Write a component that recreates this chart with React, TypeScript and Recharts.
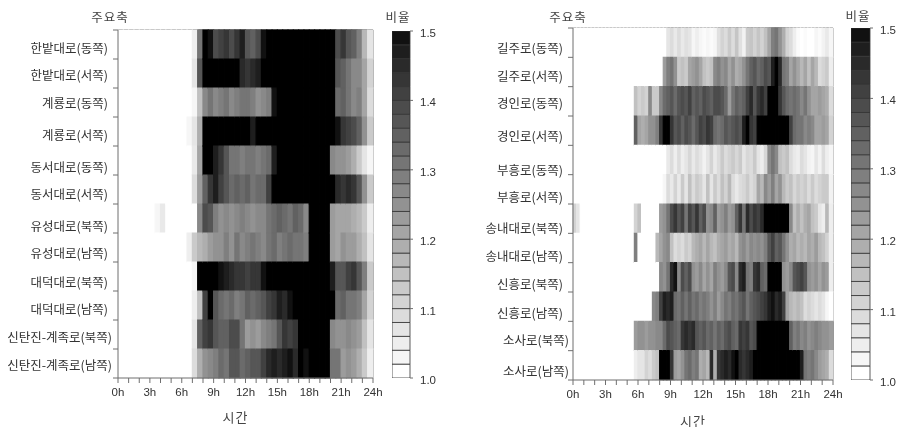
import { BarChart, Bar, Cell, XAxis, YAxis, Label, CartesianGrid } from 'recharts'

const HOURS = [0, 1, 2, 3, 4, 5, 6, 7, 8, 9, 10, 11, 12, 13, 14, 15, 16, 17, 18, 19, 20, 21, 22, 23, 24]
const LEVELS = [1, 1.02, 1.04, 1.06, 1.08, 1.1, 1.12, 1.14, 1.16, 1.18, 1.2, 1.22, 1.24, 1.26, 1.28, 1.3, 1.32, 1.34, 1.36, 1.38, 1.4, 1.42, 1.44, 1.46, 1.48]
const LEGEND_TICKS = [1, 1.1, 1.2, 1.3, 1.4, 1.5]

const leftRoads = ['한밭대로(동쪽)', '한밭대로(서쪽)', '계룡로(동쪽)', '계룡로(서쪽)', '동서대로(동쪽)', '동서대로(서쪽)', '유성대로(북쪽)', '유성대로(남쪽)', '대덕대로(북쪽)', '대덕대로(남쪽)', '신탄진-계족로(북쪽)', '신탄진-계족로(남쪽)']
const rightRoads = ['길주로(동쪽)', '길주로(서쪽)', '경인로(동쪽)', '경인로(서쪽)', '부흥로(동쪽)', '부흥로(서쪽)', '송내대로(북쪽)', '송내대로(남쪽)', '신흥로(북쪽)', '신흥로(남쪽)', '소사로(북쪽)', '소사로(남쪽)']

// the labels in the picture don't sit exactly on the row centres
const leftNudgeY = [3, 1, 0, 3, 6, 4, 7, 5, 5, 3, 2, 1]
const leftNudgeX = [0, 0, 0, 0, 0, 0, 0, 0, 0, 0, 4, 4]
const rightNudgeY = [5, 3, 1, 5, 9, 7, 9, 7, 6, 6, 3, 5]
const rightNudgeX = [0, 0, 0, 0, 0, 0, 0, 0, 0, 0, 6, 6]

// half hour bins
const leftValues = [
  [1,1,1,1,1,1,1,1,1,1,1,1,1,1,1.04,1.3,1.5,1.48,1.38,1.4,1.42,1.38,1.42,1.46,1.36,1.34,1.38,1.48,1.5,1.5,1.5,1.5,1.5,1.5,1.5,1.5,1.5,1.5,1.5,1.5,1.5,1.38,1.42,1.36,1.34,1.28,1.16,1.06],
  [1,1,1,1,1,1,1,1,1,1,1,1,1,1,1.06,1.36,1.5,1.5,1.5,1.5,1.5,1.5,1.5,1.44,1.42,1.44,1.46,1.5,1.5,1.5,1.5,1.5,1.5,1.5,1.5,1.5,1.5,1.5,1.5,1.5,1.5,1.36,1.34,1.3,1.26,1.26,1.2,1.1],
  [1,1,1,1,1,1,1,1,1,1,1,1,1,1,1.02,1.14,1.26,1.3,1.26,1.28,1.3,1.26,1.28,1.3,1.3,1.28,1.24,1.26,1.28,1.48,1.5,1.5,1.5,1.5,1.5,1.5,1.5,1.5,1.5,1.5,1.5,1.32,1.34,1.3,1.26,1.28,1.2,1.08],
  [1,1,1,1,1,1,1,1,1,1,1,1,1,1.02,1.06,1.18,1.5,1.5,1.5,1.5,1.5,1.5,1.5,1.5,1.5,1.46,1.5,1.5,1.5,1.5,1.5,1.5,1.5,1.5,1.5,1.5,1.5,1.5,1.5,1.5,1.5,1.48,1.42,1.4,1.38,1.34,1.24,1.12],
  [1,1,1,1,1,1,1,1,1,1,1,1,1,1,1.05,1.2,1.5,1.5,1.46,1.42,1.36,1.3,1.3,1.28,1.3,1.3,1.28,1.3,1.32,1.46,1.5,1.5,1.5,1.5,1.5,1.5,1.5,1.5,1.5,1.5,1.26,1.24,1.24,1.22,1.18,1.12,1.06,1.02],
  [1,1,1,1,1,1,1,1,1,1,1,1,1,1,1.08,1.22,1.34,1.42,1.46,1.4,1.36,1.32,1.34,1.32,1.34,1.3,1.32,1.32,1.4,1.5,1.5,1.5,1.5,1.5,1.5,1.5,1.5,1.5,1.5,1.5,1.5,1.44,1.42,1.44,1.42,1.36,1.24,1.12],
  [1,1,1,1,1,1,1,1.02,1.05,1,1,1,1,1,1,1.26,1.38,1.36,1.28,1.24,1.26,1.24,1.26,1.28,1.26,1.24,1.26,1.26,1.3,1.32,1.34,1.32,1.3,1.34,1.32,1.26,1.5,1.5,1.5,1.5,1.22,1.2,1.2,1.2,1.18,1.16,1.12,1.04],
  [1,1,1,1,1,1,1,1,1,1,1,1,1,1.04,1.12,1.16,1.18,1.22,1.24,1.24,1.28,1.24,1.3,1.26,1.28,1.3,1.28,1.26,1.3,1.32,1.28,1.3,1.32,1.3,1.3,1.28,1.5,1.5,1.5,1.5,1.22,1.2,1.24,1.22,1.22,1.18,1.14,1.06],
  [1,1,1,1,1,1,1,1,1,1,1,1,1,1,1.02,1.5,1.5,1.5,1.5,1.48,1.46,1.44,1.42,1.42,1.4,1.42,1.42,1.48,1.5,1.5,1.5,1.5,1.5,1.5,1.5,1.5,1.5,1.5,1.5,1.5,1.46,1.36,1.36,1.4,1.42,1.36,1.28,1.12],
  [1,1,1,1,1,1,1,1,1,1,1,1,1,1,1.04,1.14,1.4,1.5,1.36,1.32,1.3,1.32,1.28,1.3,1.34,1.32,1.34,1.36,1.4,1.42,1.46,1.44,1.48,1.5,1.5,1.5,1.5,1.5,1.5,1.5,1.5,1.32,1.34,1.3,1.3,1.28,1.2,1.1],
  [1,1,1,1,1,1,1,1,1,1,1,1,1,1,1.06,1.34,1.4,1.42,1.36,1.34,1.34,1.38,1.38,1.3,1.22,1.24,1.22,1.26,1.28,1.3,1.36,1.42,1.4,1.42,1.5,1.5,1.5,1.5,1.5,1.5,1.26,1.24,1.24,1.26,1.24,1.22,1.14,1.06],
  [1,1,1,1,1,1,1,1,1,1,1,1,1,1,1.08,1.18,1.24,1.26,1.28,1.32,1.3,1.36,1.36,1.32,1.34,1.36,1.36,1.4,1.44,1.46,1.44,1.46,1.48,1.44,1.5,1.48,1.5,1.5,1.5,1.5,1.3,1.3,1.22,1.24,1.22,1.18,1.12,1.04],
]

// 20 minute bins
const rightValues = [
  [1,1,1,1,1,1,1,1,1,1,1,1,1,1,1,1,1,1,1,1,1,1,1,1,
   1,1,1.06,1.08,1.05,1.08,1.05,1.07,1.06,1.02,1.04,1.02,1.01,1.02,1.01,1.02,1.07,1.1,1.08,1.12,1.08,1.13,1.07,1.03,
   1.12,1.13,1.1,1.13,1.1,1.14,1.2,1.28,1.3,1.24,1.18,1.1,1.08,1.04,1.01,1,1.01,1,1,1.02,1.01,1.03,1.05,1.02],
  [1,1,1,1,1,1,1,1,1,1,1,1,1,1,1,1,1,1,1,1,1,1,1,1,
   1,1.22,1.28,1.3,1.24,1.12,1.14,1.12,1.2,1.22,1.24,1.2,1.14,1.12,1.14,1.26,1.28,1.24,1.26,1.2,1.24,1.18,1.2,1.24,
   1.3,1.34,1.36,1.32,1.34,1.38,1.36,1.46,1.5,1.44,1.3,1.28,1.2,1.24,1.2,1.16,1.2,1.14,1.2,1.16,1.08,1.1,1.12,1.04],
  [1,1,1,1,1,1,1,1,1,1,1,1,1,1,1,1,1,1.14,1.1,1.12,1.1,1.26,1.12,1.12,
   1.26,1.32,1.34,1.36,1.32,1.36,1.38,1.36,1.4,1.34,1.36,1.34,1.38,1.36,1.34,1.38,1.38,1.36,1.32,1.22,1.3,1.34,1.32,1.34,
   1.4,1.44,1.36,1.42,1.44,1.4,1.5,1.5,1.5,1.42,1.36,1.32,1.3,1.32,1.3,1.26,1.3,1.24,1.2,1.2,1.22,1.2,1.18,1.08],
  [1,1,1,1,1,1,1,1,1,1,1,1,1,1,1,1,1,1.34,1.2,1.18,1.2,1.24,1.24,1.28,
   1.42,1.5,1.5,1.42,1.36,1.38,1.34,1.38,1.36,1.32,1.36,1.4,1.38,1.42,1.4,1.32,1.3,1.32,1.36,1.34,1.36,1.38,1.36,1.46,
   1.5,1.42,1.4,1.5,1.5,1.5,1.5,1.5,1.5,1.5,1.5,1.5,1.4,1.32,1.3,1.3,1.26,1.28,1.26,1.2,1.2,1.22,1.2,1.1],
  [1,1,1,1,1,1,1,1,1,1,1,1,1,1,1,1,1,1,1,1,1,1,1,1,
   1,1,1.05,1.08,1.04,1.08,1.04,1.06,1.09,1.05,1.08,1.06,1.03,1.06,1.1,1.05,1.08,1.12,1.08,1.1,1.12,1.09,1.12,1.06,
   1.09,1.08,1.12,1.06,1.04,1.09,1.26,1.3,1.26,1.14,1.12,1.14,1.08,1.05,1.04,1.08,1.06,1.03,1.02,1.06,1.03,1.08,1.04,1.02],
  [1,1,1,1,1,1,1,1,1,1,1,1,1,1,1,1,1,1,1,1,1,1,1,1,
   1,1.02,1.08,1.05,1.1,1.05,1.12,1.06,1.14,1.08,1.12,1.1,1.06,1.14,1.06,1.12,1.08,1.14,1.1,1.16,1.08,1.05,1.08,1.09,
   1.12,1.08,1.1,1.2,1.16,1.26,1.22,1.28,1.2,1.24,1.16,1.12,1.14,1.09,1.12,1.1,1.12,1.08,1.12,1.08,1.1,1.12,1.12,1.03],
  [1.1,1.06,1,1,1,1,1,1,1,1,1,1,1,1,1,1,1,1.1,1.14,1,1,1,1,1,
   1.22,1.24,1.3,1.38,1.42,1.36,1.4,1.3,1.4,1.36,1.42,1.34,1.38,1.24,1.26,1.34,1.22,1.24,1.28,1.22,1.24,1.34,1.42,1.3,
   1.44,1.38,1.42,1.4,1.44,1.5,1.5,1.5,1.5,1.5,1.5,1.5,1.26,1.14,1.18,1.14,1.18,1.2,1.14,1.12,1.06,1.04,1.16,1.04],
  [1,1,1,1,1,1,1,1,1,1,1,1,1,1,1,1,1,1.28,1,1,1,1,1,1.16,
   1.2,1.24,1.26,1.14,1.08,1.1,1.08,1.12,1.1,1.16,1.18,1.2,1.16,1.2,1.16,1.14,1.18,1.2,1.22,1.18,1.2,1.16,1.24,1.26,
   1.22,1.26,1.24,1.26,1.24,1.28,1.36,1.4,1.34,1.36,1.3,1.24,1.18,1.2,1.16,1.18,1.16,1.2,1.18,1.22,1.16,1.14,1.1,1.04],
  [1,1,1,1,1,1,1,1,1,1,1,1,1,1,1,1,1,1,1,1,1,1,1,1,
   1.26,1.24,1.3,1.44,1.48,1.26,1.38,1.34,1.38,1.24,1.22,1.26,1.2,1.24,1.2,1.28,1.24,1.22,1.26,1.36,1.38,1.26,1.44,1.46,
   1.3,1.28,1.42,1.44,1.34,1.32,1.5,1.5,1.5,1.5,1.24,1.22,1.26,1.36,1.38,1.4,1.36,1.24,1.22,1.24,1.2,1.24,1.22,1.04],
  [1,1,1,1,1,1,1,1,1,1,1,1,1,1,1,1,1,1,1,1,1,1,1.26,1.28,
   1.4,1.46,1.44,1.46,1.32,1.3,1.34,1.3,1.34,1.3,1.32,1.28,1.3,1.28,1.24,1.28,1.22,1.26,1.3,1.28,1.32,1.3,1.34,1.36,
   1.3,1.34,1.36,1.38,1.4,1.42,1.46,1.48,1.44,1.46,1.4,1.2,1.16,1.14,1.16,1.14,1.08,1.1,1.08,1.06,1.08,1.06,1.02,1],
  [1,1,1,1,1,1,1,1,1,1,1,1,1,1,1,1,1,1.22,1.24,1.24,1.22,1.24,1.24,1.26,
   1.26,1.32,1.38,1.36,1.34,1.32,1.42,1.44,1.42,1.44,1.36,1.34,1.36,1.32,1.34,1.3,1.34,1.32,1.36,1.38,1.34,1.32,1.42,1.4,
   1.42,1.36,1.38,1.5,1.5,1.5,1.5,1.5,1.5,1.5,1.5,1.5,1.34,1.28,1.3,1.26,1.28,1.24,1.26,1.28,1.26,1.24,1.24,1.22],
  [1,1,1,1,1,1,1,1,1,1,1,1,1,1,1,1,1,1.04,1.06,1.06,1.1,1.08,1.12,1.14,
   1.5,1.5,1.5,1.42,1.22,1.2,1.24,1.3,1.32,1.28,1.3,1.18,1.2,1.16,1.44,1.18,1.42,1.44,1.46,1.44,1.48,1.5,1.44,1.42,
   1.44,1.46,1.5,1.5,1.5,1.5,1.5,1.5,1.5,1.5,1.5,1.5,1.5,1.5,1.5,1.46,1.3,1.28,1.3,1.26,1.22,1.2,1.18,1.08],
]

const gray = (v: number) => {
  const t = Math.min(1, Math.max(0, (v - 1) / 0.5))
  const g = Math.round(255 * Math.pow(1 - t, 0.85))
  return `rgb(${g},${g},${g})`
}

const AXIS = '#6f6f6f'
const LABEL_FONT = '"Noto Sans CJK KR", sans-serif'
const NUM_FONT = '"Liberation Sans", Arial, sans-serif'

function RoadTick({ x, y, payload, index, plotLeft, rowHeight, nudgeX, nudgeY }: any) {
  return (
    <g>
      <text x={x + nudgeX[index]} y={y + nudgeY[index]} textAnchor="end" dominantBaseline="central" fill="#333" fontSize={12.5} fontFamily={LABEL_FONT}>
        {payload.value}
      </text>
      {index === 0 && <line x1={plotLeft - 5} x2={plotLeft} y1={y - rowHeight / 2} y2={y - rowHeight / 2} stroke={AXIS} />}
      <line x1={plotLeft - 5} x2={plotLeft} y1={y + rowHeight / 2} y2={y + rowHeight / 2} stroke={AXIS} />
    </g>
  )
}

function Heatmap({ roads, values, nudgeX, nudgeY, top, plotLeft, plotWidth, plotHeight, labelOffset }: any) {
  const bins = values[0].length
  const table = roads.map((road: string) => {
    const row: any = { road }
    for (let i = 0; i < bins; i++) row[`t${i}`] = 24 / bins
    return row
  })
  return (
    <div style={{ position: 'absolute', left: 0, top: top - 1 }}>
      <BarChart
        width={plotLeft + plotWidth + 22}
        height={plotHeight + 51}
        data={table}
        layout="vertical"
        barCategoryGap={0}
        barGap={0}
        margin={{ top: 1, right: 22, left: 0, bottom: 0 }}
      >
        <CartesianGrid
          yAxisId="cat"
          stroke={AXIS}
          strokeWidth={1.5}
          horizontalCoordinatesGenerator={({ offset }: any) => [offset.top]}
          verticalCoordinatesGenerator={({ offset }: any) => [offset.left + offset.width]}
        />
        <XAxis
          type="number"
          domain={[0, 24]}
          ticks={HOURS}
          interval={0}
          height={50}
          tickSize={5}
          tickMargin={5}
          stroke={AXIS}
          tick={{ fill: '#333', fontSize: 11.5, fontFamily: NUM_FONT }}
          tickFormatter={(h: number) => (h % 3 === 0 ? `${h}h` : '')}
        >
          <Label value="시간" position="insideBottom" dx={-10} offset={labelOffset} style={{ fill: '#444', fontSize: 13, letterSpacing: 1, fontFamily: LABEL_FONT }} />
        </XAxis>
        <YAxis
          yAxisId="cat"
          type="category"
          dataKey="road"
          interval={0}
          width={plotLeft}
          stroke={AXIS}
          tickLine={false}
          tickSize={0}
          tickMargin={10}
          tick={<RoadTick plotLeft={plotLeft} rowHeight={plotHeight / 12} nudgeX={nudgeX} nudgeY={nudgeY} />}
        />
        {Array.from({ length: bins }, (_, i) => (
          <Bar key={i} dataKey={`t${i}`} stackId="t" yAxisId="cat" isAnimationActive={false}>
            {values.map((row: number[], r: number) => (
              <Cell key={r} fill={gray(row[i])} stroke={gray(row[i])} strokeWidth={1.2} />
            ))}
          </Bar>
        ))}
      </BarChart>
    </div>
  )
}

function ColorKey({ left, top, plotHeight, barWidth }: any) {
  const row: any = { base: 1 }
  LEVELS.forEach((level, i) => { row[`l${i}`] = 0.02 })
  return (
    <div style={{ position: 'absolute', left, top: top - 10 }}>
      <BarChart
        width={barWidth + 41}
        height={plotHeight + 20}
        data={[row]}
        barCategoryGap={0}
        margin={{ top: 10, right: 0, left: 0, bottom: 10 }}
      >
        <XAxis hide />
        <YAxis
          orientation="right"
          type="number"
          domain={[1, 1.5]}
          allowDataOverflow
          ticks={LEGEND_TICKS}
          interval={0}
          width={41}
          tickSize={3}
          tickMargin={7}
          axisLine={false}
          stroke={AXIS}
          tick={{ fill: '#333', fontSize: 11.5, fontFamily: NUM_FONT, dy: 2 }}
          tickFormatter={(v: number) => v.toFixed(1)}
        />
        <Bar dataKey="base" stackId="k" fill="none" isAnimationActive={false} />
        {LEVELS.map((level, i) => (
          <Bar key={level} dataKey={`l${i}`} stackId="k" fill={gray(level)} stroke="#333" strokeWidth={0.8} isAnimationActive={false} />
        ))}
      </BarChart>
    </div>
  )
}

const Title = ({ x, y, children }: any) => (
  <div style={{ position: 'absolute', left: x, top: y, transform: 'translate(-50%,-50%)', fontFamily: LABEL_FONT, fontSize: 12.5, color: '#444', whiteSpace: 'nowrap', letterSpacing: 1 }}>
    {children}
  </div>
)

export default function App() {
  return (
    <div style={{ position: 'absolute', left: 0, top: 0, width: 897, height: 427, background: '#fff', overflow: 'hidden', filter: 'blur(0.6px)' }}>
      <Title x={110} y={16}>주요축</Title>
      <Title x={398} y={16}>비율</Title>
      <Title x={568} y={16}>주요축</Title>
      <Title x={858} y={15}>비율</Title>
      <Heatmap roads={leftRoads} values={leftValues} nudgeX={leftNudgeX} nudgeY={leftNudgeY} top={30} plotLeft={118} plotWidth={255} plotHeight={348} labelOffset={6} />
      <ColorKey left={392} top={31} plotHeight={347} barWidth={18} />
      <Heatmap roads={rightRoads} values={rightValues} nudgeX={rightNudgeX} nudgeY={rightNudgeY} top={28} plotLeft={573} plotWidth={260} plotHeight={352} labelOffset={4} />
      <ColorKey left={851} top={28} plotHeight={352} barWidth={19} />
    </div>
  )
}
